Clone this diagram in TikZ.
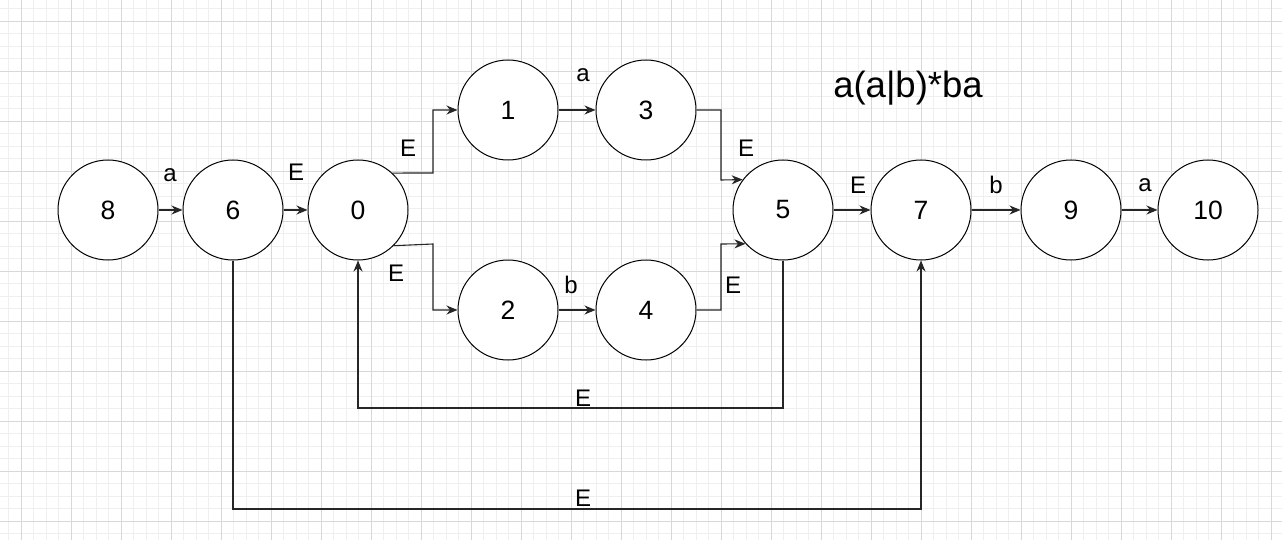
\documentclass[tikz,border=0pt]{standalone}
\usepackage{fontspec}
\setmainfont{Liberation Sans}
\usetikzlibrary{arrows.meta}
\definecolor{gridminor}{HTML}{EFEFEF}
\definecolor{gridmajor}{HTML}{D8D8D8}
\tikzset{
  state/.style={circle,draw=black,line width=1pt,minimum size=100pt,inner sep=0pt,font=\fontsize{26.5}{26.5}\selectfont,fill=white},
  edge/.style={draw=black!85,line width=1.1pt,-{Stealth[length=11pt,width=9pt,inset=3.5pt]}},
  lbl/.style={font=\fontsize{24}{24}\selectfont,inner sep=0pt},
  title/.style={font=\fontsize{36.5}{36.5}\selectfont,inner sep=0pt}
}
\begin{document}
\begin{tikzpicture}[x=1pt,y=-1pt]
\useasboundingbox (0,0) rectangle (1282,540);
\fill[white] (0,0) rectangle (1282,540);
% grid
\foreach \i in {0,...,103} {
  \draw[gridminor,line width=0.7pt] (8.8+12.5*\i,0) -- (8.8+12.5*\i,540);
}
\foreach \i in {0,...,43} {
  \draw[gridminor,line width=0.7pt] (0,8.8+12.5*\i) -- (1282,8.8+12.5*\i);
}
\foreach \i in {0,...,25} {
  \draw[gridmajor,line width=0.8pt] (21.3+50*\i,0) -- (21.3+50*\i,540);
}
\foreach \i in {0,...,10} {
  \draw[gridmajor,line width=0.8pt] (0,21.3+50*\i) -- (1282,21.3+50*\i);
}
% nodes
\node[state] (n8) at (108,210) {8};
\node[state] (n6) at (233,210) {6};
\node[state] (n0) at (358,210) {0};
\node[state] (n1) at (508,110) {1};
\node[state] (n3) at (646,110) {3};
\node[state] (n2) at (508,310) {2};
\node[state] (n4) at (646,310) {4};
\node[state] (n5) at (783,210) {5};
\node[state] (n7) at (921,210) {7};
\node[state] (n9) at (1071,210) {9};
\node[state] (n10) at (1208,210) {10};
% helper coordinates
\coordinate (c01) at (433,173);
\coordinate (c02) at (433,244);
\coordinate (c35) at (721,180);
\coordinate (c45) at (721,244);
\coordinate (l50a) at (783,408);
\coordinate (l50b) at (358,408);
\coordinate (l67a) at (233,509);
\coordinate (l67b) at (921,509);
% edges
\draw[edge] (n8) -- (n6);
\draw[edge] (n6) -- (n0);
\draw[edge] (n0.{atan2(37,34)}) -- (c01) |- (n1.west);
\draw[edge] (n0.{-atan2(34,34)}) -- (c02) |- (n2.west);
\draw[edge] (n1) -- (n3);
\draw[edge] (n2) -- (n4);
\draw[edge] (n3.east) -| (c35) -- (n5.{180-atan2(30,40)});
\draw[edge] (n4.east) -| (c45) -- (n5.{180+atan2(34,37)});
\draw[edge] (n5.south) -- (l50a) -- (l50b) -- (n0.south);
\draw[edge] (n5) -- (n7);
\draw[edge] (n7) -- (n9);
\draw[edge] (n9) -- (n10);
\draw[edge] (n6.south) -- (l67a) -- (l67b) -- (n7.south);
% labels
\node[lbl] (t86) at (170,175) {a};
\node[lbl] (t60) at (296,172) {E};
\node[lbl] (t01) at (408,148) {E};
\node[lbl] (t02) at (396,273) {E};
\node[lbl] (t13) at (583,75) {a};
\node[lbl] (t24) at (571,285) {b};
\node[lbl] (t35) at (746,148) {E};
\node[lbl] (t45) at (733,285) {E};
\node[lbl] (t50) at (583,398) {E};
\node[lbl] (t57) at (858,185) {E};
\node[lbl] (t79) at (996,185) {b};
\node[lbl] (t910) at (1145,185) {a};
\node[lbl] (t67) at (583,498) {E};
\node[title] (ttl) at (908,88) {a(a|b)*ba};
\end{tikzpicture}
\end{document}
